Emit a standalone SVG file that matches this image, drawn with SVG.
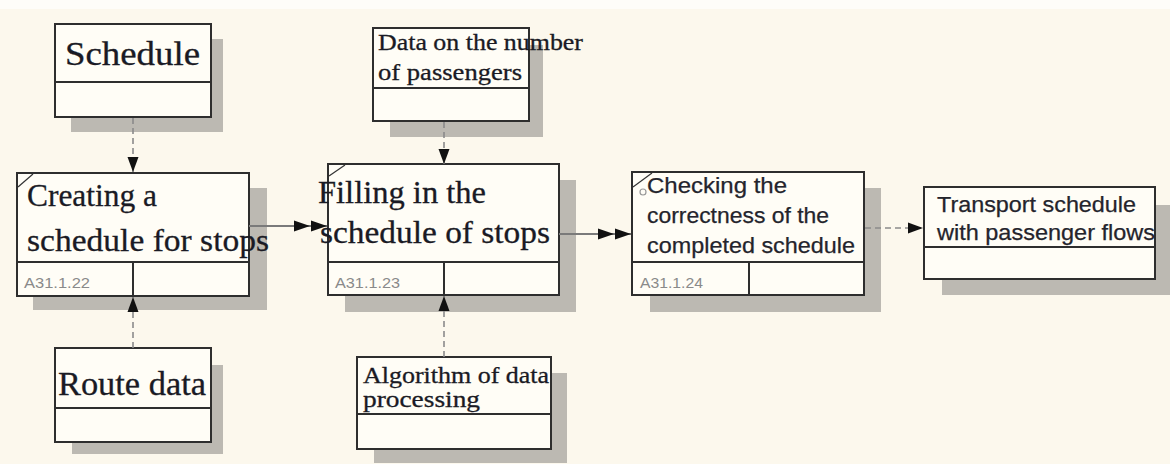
<svg xmlns="http://www.w3.org/2000/svg" width="1170" height="464" viewBox="0 0 1170 464">
<defs>
<style>
.bg{fill:#fcf8ed}
.shadow{fill:#bcb9b2}
.box{fill:#fffdf6;stroke:#2e2e2e;stroke-width:2}
.div{stroke:#2e2e2e;stroke-width:2;fill:none}
.serif{font-family:"Liberation Serif","Times New Roman",serif;fill:#1a1a24;stroke:#1a1a24;stroke-width:0.3}
.sans{font-family:"Liberation Sans",Arial,sans-serif;fill:#24242c;stroke:#24242c;stroke-width:0.25}
.code{font-family:"Liberation Sans",Arial,sans-serif;font-size:15px;fill:#8a8a8a}
.corner{stroke:#333;stroke-width:1.2;fill:none}
.dash{stroke:#8a8a8a;stroke-width:1.6;stroke-dasharray:6 4;fill:none}
.solid{stroke:#7a7a7a;stroke-width:2;fill:none}
</style>
<marker id="arr" markerUnits="userSpaceOnUse" markerWidth="16" markerHeight="12" refX="15" refY="6" orient="auto">
<path d="M0,0.5 L15,6 L0,11.5 z" fill="#111"/>
</marker>
<marker id="dbl" markerUnits="userSpaceOnUse" markerWidth="34" markerHeight="12" refX="33" refY="6" orient="auto">
<path d="M0,0.5 L16,6 L0,11.5 z M17,0.5 L33,6 L17,11.5 z" fill="#111"/>
</marker>
</defs>
<rect class="bg" x="0" y="0" width="1170" height="464"/>
<rect x="0" y="0" width="1170" height="9" fill="#fefdf9"/>

<g id="node-schedule">
<rect class="shadow" x="71" y="39" width="152" height="93"/>
<rect class="box" x="55" y="24" width="156" height="93"/>
<line class="div" x1="55" y1="82" x2="211" y2="82"/>
<text class="serif" x="65" y="65" font-size="33" textLength="135" lengthAdjust="spacingAndGlyphs">Schedule</text>
</g>

<g id="node-creating">
<rect class="shadow" x="33" y="188" width="234" height="122"/>
<rect class="box" x="17" y="173" width="232" height="123"/>
<line class="div" x1="17" y1="262" x2="249" y2="262"/>
<line class="div" x1="133" y1="262" x2="133" y2="296"/>
<line class="corner" x1="18" y1="187" x2="33" y2="174"/>
<text class="serif" font-size="32"><tspan x="27" y="206" textLength="130" lengthAdjust="spacingAndGlyphs">Creating a</tspan><tspan x="27" y="251" textLength="242" lengthAdjust="spacingAndGlyphs">schedule for stops</tspan></text>
<text class="code" x="24" y="288" textLength="66" lengthAdjust="spacingAndGlyphs">A31.1.22</text>
</g>

<g id="node-route">
<rect class="shadow" x="72" y="365" width="151" height="89"/>
<rect class="box" x="55" y="348" width="156" height="94"/>
<line class="div" x1="55" y1="408" x2="211" y2="408"/>
<text class="serif" x="58" y="395" font-size="33" textLength="148" lengthAdjust="spacingAndGlyphs">Route data</text>
</g>

<g id="node-data">
<rect class="shadow" x="390" y="45" width="153" height="92"/>
<rect class="box" x="373" y="28" width="156" height="93"/>
<line class="div" x1="373" y1="88" x2="529" y2="88"/>
<text class="serif" font-size="23"><tspan x="378" y="50" textLength="205" lengthAdjust="spacingAndGlyphs">Data on the number</tspan><tspan x="378" y="80" textLength="144" lengthAdjust="spacingAndGlyphs">of passengers</tspan></text>
</g>

<g id="node-filling">
<rect class="shadow" x="345" y="180" width="231" height="132"/>
<rect class="box" x="328" y="164" width="231" height="131"/>
<line class="div" x1="328" y1="262" x2="559" y2="262"/>
<line class="div" x1="444" y1="262" x2="444" y2="295"/>
<line class="corner" x1="329" y1="176" x2="345" y2="165"/>
<text class="serif" font-size="32"><tspan x="318" y="203" textLength="168" lengthAdjust="spacingAndGlyphs">Filling in the</tspan><tspan x="320" y="243" textLength="230" lengthAdjust="spacingAndGlyphs">schedule of stops</tspan></text>
<text class="code" x="335" y="288" textLength="65" lengthAdjust="spacingAndGlyphs">A31.1.23</text>
</g>

<g id="node-algorithm">
<rect class="shadow" x="374" y="373" width="193" height="90"/>
<rect class="box" x="357" y="357" width="194" height="92"/>
<line class="div" x1="357" y1="414" x2="551" y2="414"/>
<text class="serif" font-size="23"><tspan x="363" y="383" textLength="186" lengthAdjust="spacingAndGlyphs">Algorithm of data</tspan><tspan x="363" y="407" textLength="117" lengthAdjust="spacingAndGlyphs">processing</tspan></text>
</g>

<g id="node-checking">
<rect class="shadow" x="650" y="188" width="231" height="124"/>
<rect class="box" x="632" y="172" width="232" height="123"/>
<line class="div" x1="632" y1="262" x2="864" y2="262"/>
<line class="div" x1="749" y1="262" x2="749" y2="295"/>
<line class="corner" x1="633" y1="187" x2="652" y2="173"/>
<circle cx="643" cy="192" r="3" fill="none" stroke="#999" stroke-width="1.2"/>
<text class="sans" font-size="22"><tspan x="647" y="193" textLength="140" lengthAdjust="spacingAndGlyphs">Checking the</tspan><tspan x="647" y="223" textLength="182" lengthAdjust="spacingAndGlyphs">correctness of the</tspan><tspan x="647" y="253" textLength="208" lengthAdjust="spacingAndGlyphs">completed schedule</tspan></text>
<text class="code" x="640" y="288" textLength="63" lengthAdjust="spacingAndGlyphs">A31.1.24</text>
</g>

<g id="node-transport">
<rect class="shadow" x="942" y="205" width="240" height="90"/>
<rect class="box" x="924" y="187" width="231" height="92"/>
<line class="div" x1="924" y1="247" x2="1155" y2="247"/>
<text class="sans" font-size="22"><tspan x="937" y="212" textLength="199" lengthAdjust="spacingAndGlyphs">Transport schedule</tspan><tspan x="937" y="240" textLength="218" lengthAdjust="spacingAndGlyphs">with passenger flows</tspan></text>
</g>

<g id="connectors">
<line class="dash" x1="133" y1="118" x2="133" y2="172" marker-end="url(#arr)"/>
<line class="dash" x1="133" y1="348" x2="133" y2="297" marker-end="url(#arr)"/>
<line class="solid" x1="249" y1="226" x2="327" y2="226" marker-end="url(#dbl)"/>
<line class="dash" x1="444" y1="122" x2="444" y2="164" marker-end="url(#arr)"/>
<line class="dash" x1="444" y1="357" x2="444" y2="296" marker-end="url(#arr)"/>
<line class="solid" x1="559" y1="234" x2="631" y2="234" marker-end="url(#dbl)"/>
<line class="dash" x1="865" y1="228" x2="923" y2="228" marker-end="url(#arr)"/>
</g>
</svg>
